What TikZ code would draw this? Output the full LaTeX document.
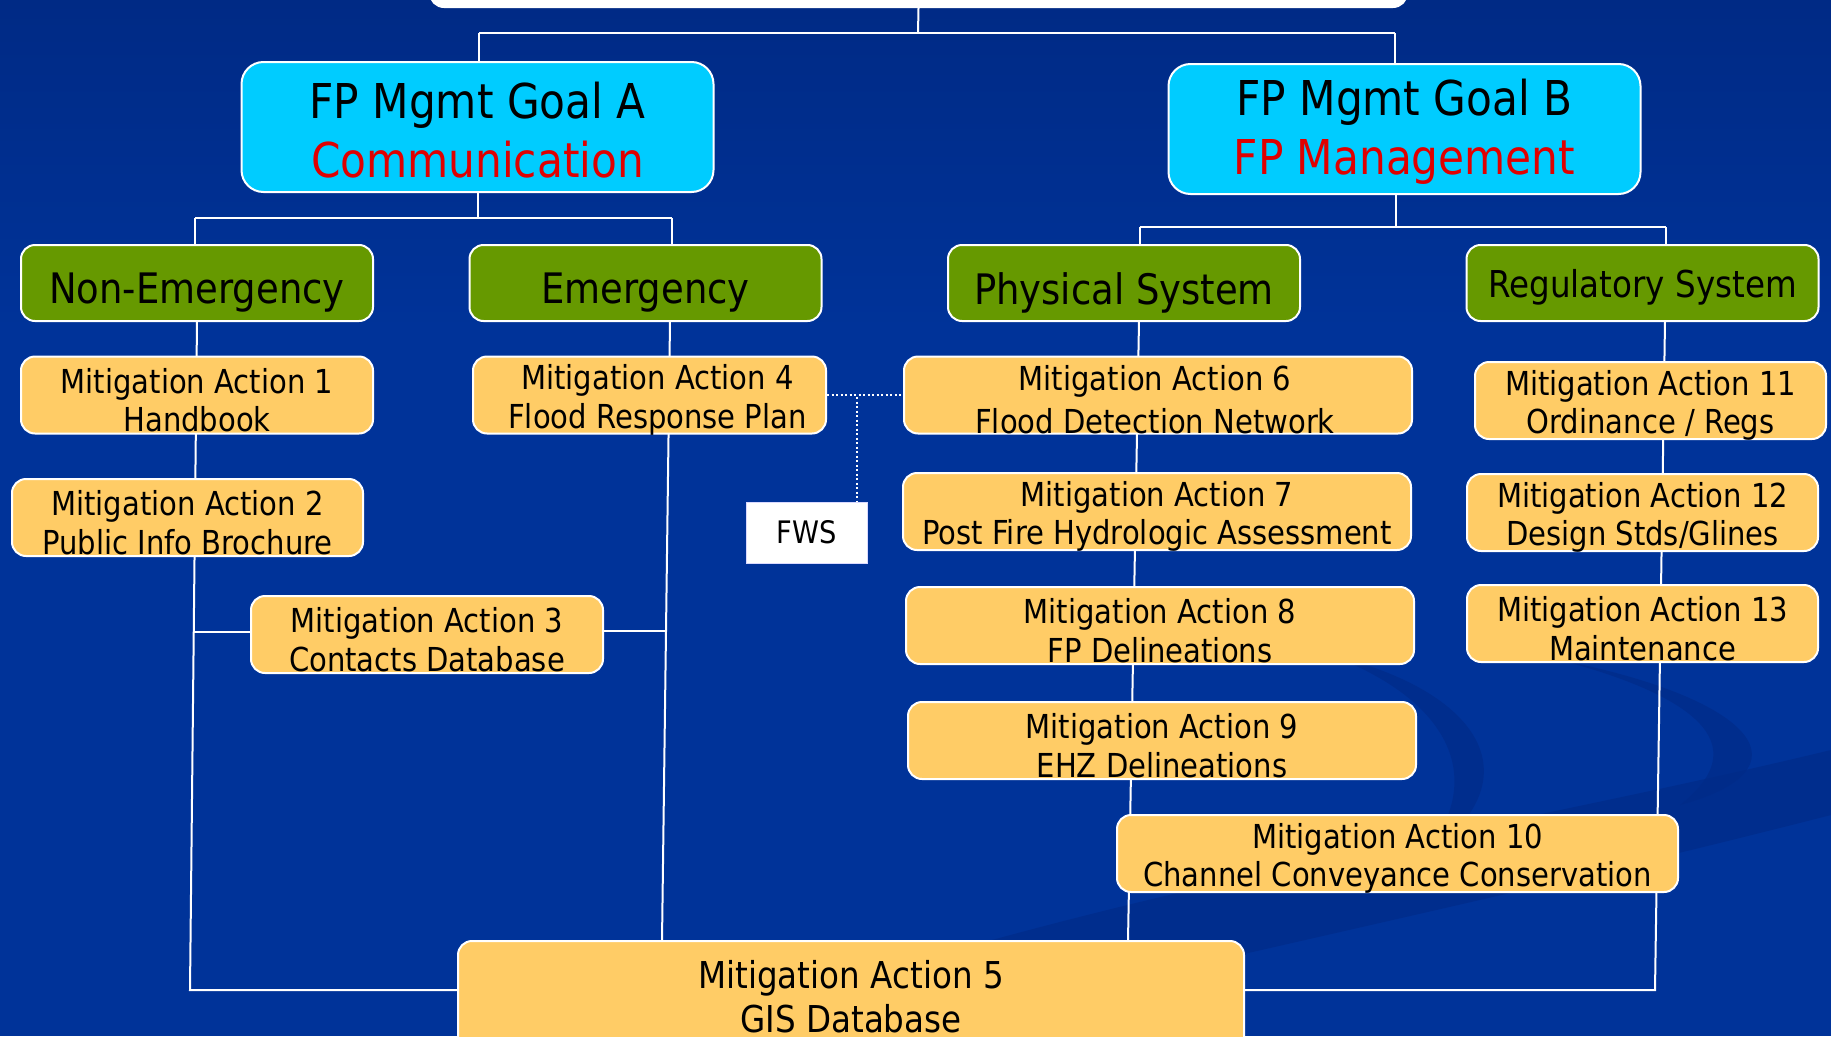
\documentclass[tikz,border=0pt]{standalone}
\usepackage{fontspec}
\setmainfont{DejaVu Sans}[FakeStretch=0.88]
\usetikzlibrary{calc}
\pgfdeclarelayer{back}
\pgfdeclarelayer{wires}
\pgfsetlayers{back,wires,main}
\definecolor{bgblue}{HTML}{003399}
\definecolor{bgtop}{HTML}{002A85}
\definecolor{swooshc}{HTML}{002B88}
\definecolor{goalcyan}{HTML}{00CCFF}
\definecolor{catgreen}{HTML}{669900}
\definecolor{actorange}{HTML}{FFCC66}
\definecolor{goalred}{HTML}{E00000}
\begin{document}
\begin{tikzpicture}[x=1pt,y=-1pt,
  box/.style={draw=white, line width=2pt, rounded corners=14pt, inner sep=0pt},
  goalbox/.style={box, fill=goalcyan, rounded corners=22pt, minimum width=472pt, minimum height=130pt},
  catbox/.style={box, fill=catgreen, minimum width=352pt, minimum height=76pt},
  actbox/.style={box, fill=actorange, minimum height=77pt},
  lbl/.style={inner sep=0pt, align=center, text=black},
  goaltext/.style={lbl, font=\fontsize{48}{59}\selectfont},
  cattext/.style={lbl, font=\fontsize{42}{48}\selectfont},
  acttext/.style={lbl, font=\fontsize{33}{38.5}\selectfont},
  wire/.style={draw=white, line width=2pt},
  dotwire/.style={draw=white, line width=2pt, dash pattern=on 2pt off 2.5pt},
]
\useasboundingbox (0,0) rectangle (1831,1036);
\begin{pgfonlayer}{back}
  \fill[bgblue] (0,0) rectangle (1831,1036);
  \shade[top color=bgtop, bottom color=bgblue] (0,0) rectangle (1831,330);
  \fill[swooshc, opacity=0.7] (760,1010) .. controls (1150,880) and (1500,830) .. (1831,750)
     -- (1831,815) .. controls (1500,900) and (1200,960) .. (900,1036) -- (760,1036) -- cycle;
  \fill[swooshc, opacity=0.7] (1330,655) .. controls (1480,690) and (1540,780) .. (1420,860)
     .. controls (1490,780) and (1450,700) .. (1330,655) -- cycle;
  \fill[swooshc, opacity=0.7] (1560,660) .. controls (1760,700) and (1810,770) .. (1680,805)
     .. controls (1750,750) and (1710,700) .. (1560,660) -- cycle;
\end{pgfonlayer}

% top box (cut off)
\node[box, fill=white, minimum width=977pt, minimum height=80pt] (top) at (918.5,-33) {};

% goals
\node[goalbox] (goalA) at (477.5,127) {};
\node[goaltext] (goalAt) at ($(goalA)+(0,3)$) {FP Mgmt Goal A\\\textcolor{goalred}{Communication}};
\node[goalbox] (goalB) at (1404.5,129) {};
\node[goaltext] (goalBt) at ($(goalB)+(0,3)$) {FP Mgmt Goal B\\\textcolor{goalred}{FP Management}};

% categories
\node[catbox] (nonem) at (197,283) {};
\node[cattext] (nonemt) at ($(nonem)+(0,10)$) {Non-Emergency};
\node[catbox] (emer) at (645.5,283) {};
\node[cattext] (emert) at ($(emer)+(0,10)$) {Emergency};
\node[catbox] (phys) at (1124,283) {};
\node[cattext] (physt) at ($(phys)+(0,10)$) {Physical System};
\node[catbox] (regs) at (1642.5,283) {};
\node[cattext, font=\fontsize{37}{44}\selectfont] (regst) at ($(regs)+(0,4)$) {Regulatory System};

% actions
\node[actbox, minimum width=352pt] (ma1) at (197,395) {};
\node[acttext] (ma1t) at ($(ma1)+(0,5)$) {Mitigation Action 1\\Handbook};
\node[actbox, minimum width=351pt] (ma2) at (187.5,517.5) {};
\node[acttext] (ma2t) at ($(ma2)+(0,5)$) {Mitigation Action 2\\Public Info Brochure};
\node[actbox, minimum width=352pt] (ma3) at (427,634.5) {};
\node[acttext] (ma3t) at ($(ma3)+(0,5)$) {Mitigation Action 3\\Contacts Database};
\node[actbox, minimum width=353pt] (ma4) at (649.5,395) {};
\node[acttext] (ma4t) at ($(ma4)+(8,5)$) {Mitigation Action 4\\Flood Response Plan};
\node[draw=white!85!blue, line width=1pt, fill=white, minimum width=121pt, minimum height=61pt, inner sep=0pt,
      font=\fontsize{31}{36}\selectfont] (fws) at (806.5,532.5) {FWS};
\node[actbox, minimum width=786pt, minimum height=130pt] (ma5) at (851,1006) {};
\node[lbl, font=\fontsize{37}{44}\selectfont] (ma5t) at ($(ma5.north)+(0,57)$) {Mitigation Action 5\\GIS Database};
\node[actbox, minimum width=508pt] (ma6) at (1158,395) {};
\node[acttext, font=\fontsize{33}{43}\selectfont] (ma6t) at ($(ma6)+(-3,5)$) {Mitigation Action 6\\Flood Detection Network};
\node[actbox, minimum width=508pt] (ma7) at (1157,511.5) {};
\node[acttext] (ma7t) at ($(ma7)+(0,5)$) {Mitigation Action 7\\Post Fire Hydrologic Assessment};
\node[actbox, minimum width=508pt] (ma8) at (1160,625.5) {};
\node[acttext] (ma8t) at ($(ma8)+(0,5)$) {Mitigation Action 8\\FP Delineations};
\node[actbox, minimum width=508pt] (ma9) at (1162,740.5) {};
\node[acttext] (ma9t) at ($(ma9)+(0,5)$) {Mitigation Action 9\\EHZ Delineations};
\node[actbox, minimum width=561pt] (ma10) at (1397.5,853.5) {};
\node[acttext] (ma10t) at ($(ma10)+(0,5)$) {Mitigation Action 10\\Channel Conveyance Conservation};
\node[actbox, minimum width=351pt] (ma11) at (1650.5,400.5) {};
\node[acttext] (ma11t) at ($(ma11)+(0,5)$) {Mitigation Action 11\\Ordinance / Regs};
\node[actbox, minimum width=351pt] (ma12) at (1642.5,512.5) {};
\node[acttext] (ma12t) at ($(ma12)+(0,5)$) {Mitigation Action 12\\Design Stds/Glines};
\node[actbox, minimum width=351pt] (ma13) at (1642.5,623.5) {};
\node[acttext] (ma13t) at ($(ma13)+(0,5)$) {Mitigation Action 13\\Maintenance};

% connector coordinates
\coordinate (tj) at (918,33);
\coordinate (bA) at (479,33);
\coordinate (bB) at (1395,33);
\coordinate (jA) at (478,218);
\coordinate (jAl) at (195,218);
\coordinate (jAr) at (672,218);
\coordinate (jB) at (1396,227);
\coordinate (jBl) at (1140,227);
\coordinate (jBr) at (1666,227);
\coordinate (l1t) at (197,321);
\coordinate (l1b) at (190,990);
\coordinate (l2t) at (670,321);
\coordinate (l2b) at (662,941);
\coordinate (l3t) at (1139,321);
\coordinate (l3b) at (1128,941);
\coordinate (l4t) at (1665,321);
\coordinate (l4b) at (1655,990);
\coordinate (fj) at (857,397);
\coordinate (m3l) at ($(l1t)!0.465!(l1b)$);
\coordinate (m3r) at ($(l2t)!0.5!(l2b)$);

\begin{pgfonlayer}{wires}
  \draw[wire] (top.south) -- (tj);
  \draw[wire] (bA) -- (bB);
  \draw[wire] (bA) -- (bA |- goalA.north);
  \draw[wire] (bB) -- (bB |- goalB.north);
  \draw[wire] (goalA.south -| jA) -- (jA);
  \draw[wire] (jAl) -- (jAr);
  \draw[wire] (jAl) -- (jAl |- nonem.north);
  \draw[wire] (jAr) -- (jAr |- emer.north);
  \draw[wire] (goalB.south -| jB) -- (jB);
  \draw[wire] (jBl) -- (jBr);
  \draw[wire] (jBl) -- (jBl |- phys.north);
  \draw[wire] (jBr) -- (jBr |- regs.north);
  \draw[wire] (l1t) -- (l1b) -- (l1b -| ma5.west);
  \draw[wire] (m3l) -- (m3l -| ma3.west);
  \draw[wire] (l2t) -- (l2b);
  \draw[wire] (m3r) -- (m3r -| ma3.east);
  \draw[wire] (l3t) -- (l3b);
  \draw[wire] (l4t) -- (l4b) -- (l4b -| ma5.east);
  \draw[dotwire] (ma4.east) -- (ma6.west);
  \draw[dotwire] (fj) -- (fj |- fws.north);
\end{pgfonlayer}
\end{tikzpicture}
\end{document}
